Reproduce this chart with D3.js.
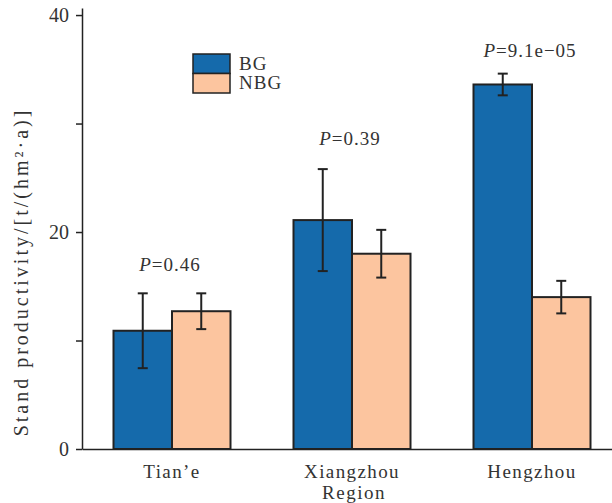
<!DOCTYPE html>
<html>

<head>
    <meta charset="UTF-8" />
    <script src="https://d3js.org/d3.v7.min.js"></script>
    <style>
        body { margin: 0; background: #fff; }
        text { font-family: "Liberation Serif", "Times New Roman", serif; fill: #333; }
    </style>
</head>

<body>
    <script>
        // values
        const regions = ["Tian\u2019e", "Xiangzhou", "Hengzhou"];
        const groups = ["BG", "NBG"];
        const bgMean = [10.9, 21.1, 33.6];
        const bgErr = [3.45, 4.7, 1.0];
        const nbgMean = [12.7, 18.0, 14.0];
        const nbgErr = [1.65, 2.2, 1.5];
        const pValues = ["0.46", "0.39", "9.1e\u221205"];
        const pLabelY = [16.4, 28.0, 36.1];
        const yTicks = [0, 10, 20, 30, 40];
        const yLabelTicks = [0, 20, 40];

        const colors = { BG: "#156aab", NBG: "#fcc59f" };

        let width = 612;
        let height = 503;

        let data = [];
        regions.forEach(function (r, i) {
            data.push({ region: r, group: "BG", mean: bgMean[i], err: bgErr[i] });
            data.push({ region: r, group: "NBG", mean: nbgMean[i], err: nbgErr[i] });
        });

        let svg = d3.select("body")
            .append("svg")
            .attr("width", width)
            .attr("height", height)

        let x0 = d3.scaleBand()
            .domain(regions)
            .range([82, 622])
            .paddingInner(0.35)
            .paddingOuter(0.175)

        let x1 = d3.scaleBand()
            .domain(groups)
            .range([0, x0.bandwidth()])

        let y = d3.scaleLinear()
            .domain([0, 40.65])
            .range([449, 8])

        // bars
        svg.selectAll(".bar")
            .data(data)
            .join("rect")
            .attr("class", "bar")
            .attr("x", function (d) { return x0(d.region) + x1(d.group) })
            .attr("y", function (d) { return y(d.mean) })
            .attr("width", x1.bandwidth())
            .attr("height", function (d) { return y(0) - y(d.mean) })
            .attr("fill", function (d) { return colors[d.group] })
            .attr("stroke", "#222")
            .attr("stroke-width", 2)

        // error bars
        let eb = svg.selectAll(".err")
            .data(data)
            .join("g")
            .attr("class", "err")
            .attr("transform", function (d) {
                return `translate(${x0(d.region) + x1(d.group) + x1.bandwidth() / 2},0)`
            })
            .attr("stroke", "#222")
            .attr("stroke-width", 2)

        eb.append("line")
            .attr("y1", function (d) { return y(d.mean + d.err) })
            .attr("y2", function (d) { return y(d.mean - d.err) })
        eb.append("line")
            .attr("x1", -5).attr("x2", 5)
            .attr("y1", function (d) { return y(d.mean + d.err) })
            .attr("y2", function (d) { return y(d.mean + d.err) })
        eb.append("line")
            .attr("x1", -5).attr("x2", 5)
            .attr("y1", function (d) { return y(d.mean - d.err) })
            .attr("y2", function (d) { return y(d.mean - d.err) })

        // y axis
        let yAxis = svg.append("g")
            .attr("transform", "translate(82,0)")
            .call(d3.axisLeft(y)
                .tickValues(yTicks)
                .tickSize(6)
                .tickSizeOuter(0)
                .tickPadding(7)
                .tickFormat(function (d) { return yLabelTicks.includes(d) ? d : "" }))
        yAxis.selectAll("path, line").attr("stroke", "#222").attr("stroke-width", 1.5)
        yAxis.selectAll("text")
            .attr("font-size", 20)
            .attr("font-family", "Liberation Serif")
            .attr("fill", "#333")

        // x axis
        let xAxis = svg.append("g")
            .attr("transform", "translate(0,449)")
            .call(d3.axisBottom(x0).tickSize(0).tickSizeOuter(0))
        xAxis.select(".domain").attr("stroke", "#222").attr("stroke-width", 1.5)
        xAxis.selectAll("text")
            .attr("y", 29)
            .attr("dy", 0)
            .attr("font-size", 19)
            .attr("letter-spacing", 1.4)
            .attr("font-family", "Liberation Serif")
            .attr("fill", "#333")

        svg.append("text")
            .attr("x", 354)
            .attr("y", 499)
            .style("text-anchor", "middle")
            .attr("font-size", 19)
            .attr("letter-spacing", 1.5)
            .text("Region")

        svg.append("text")
            .attr("transform", "translate(28,272) rotate(-90)")
            .style("text-anchor", "middle")
            .attr("font-size", 20)
            .attr("letter-spacing", 3)
            .text("Stand productivity/[t/(hm\u00b2\u00b7a)]")

        // P values
        let pText = svg.selectAll(".pval")
            .data(regions)
            .join("text")
            .attr("class", "pval")
            .attr("x", function (d) { return x0(d) + x0.bandwidth() / 2 - 2 })
            .attr("y", function (d, i) { return y(pLabelY[i]) })
            .style("text-anchor", "middle")
            .attr("font-size", 19)
            .attr("letter-spacing", 1)
        pText.append("tspan").attr("font-style", "italic").text("P")
        pText.append("tspan").text(function (d, i) { return "=" + pValues[i] })

        // legend
        let legend = svg.selectAll(".legend")
            .data(groups)
            .join("g")
            .attr("class", "legend")
            .attr("transform", function (d, i) { return `translate(193,${54 + i * 19.5})` })
        legend.append("rect")
            .attr("width", 37)
            .attr("height", 19.5)
            .attr("fill", function (d) { return colors[d] })
            .attr("stroke", "#222")
            .attr("stroke-width", 1.5)
        legend.append("text")
            .attr("x", 46)
            .attr("y", 15.5)
            .attr("font-size", 19)
            .attr("letter-spacing", 1)
            .text(function (d) { return d })
    </script>
</body>

</html>
